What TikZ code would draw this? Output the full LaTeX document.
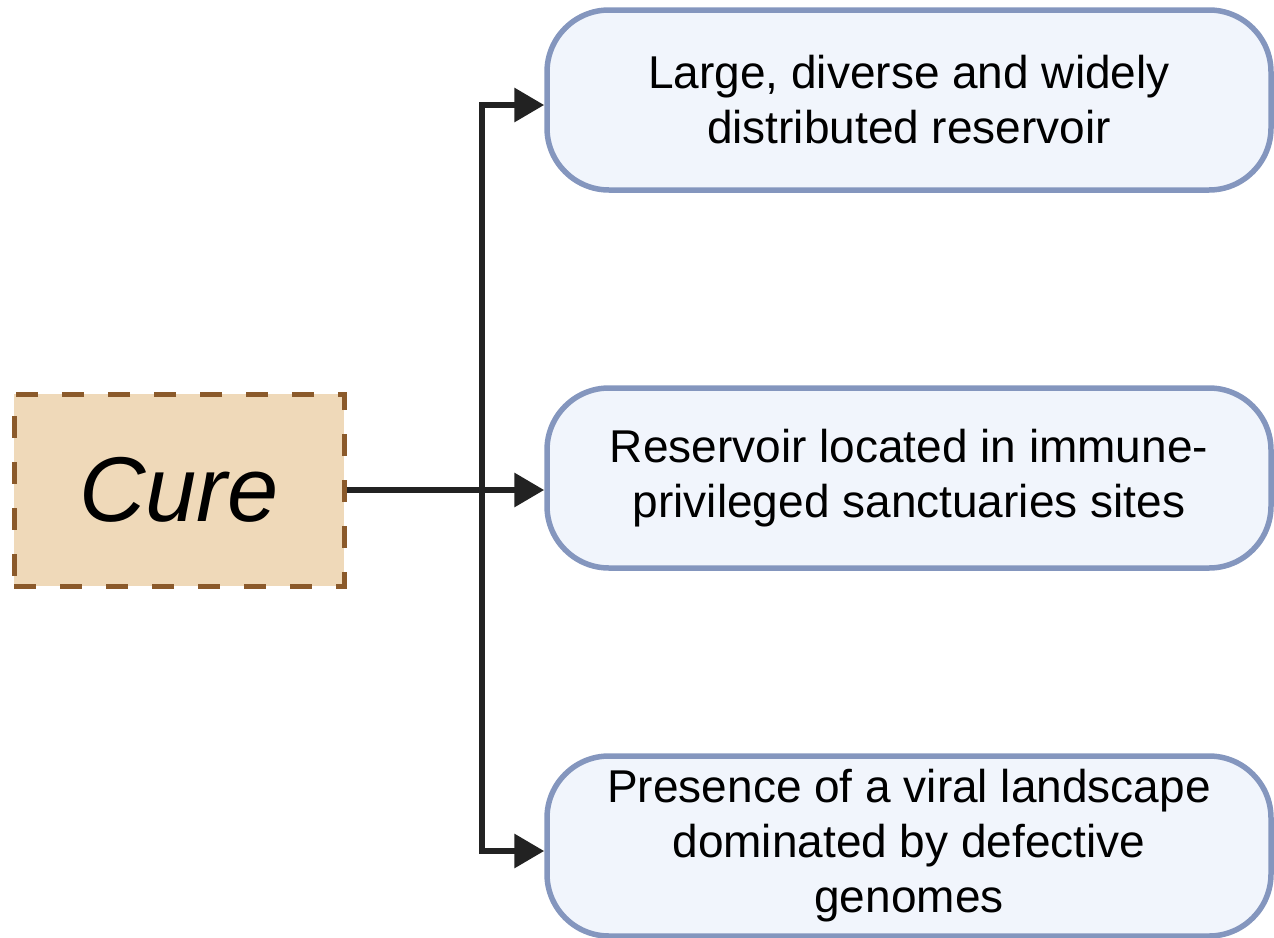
\documentclass[tikz,border=0pt]{standalone}
\usepackage{fontspec}
\setmainfont{Liberation Sans}
\usetikzlibrary{arrows.meta, positioning}
\definecolor{curefill}{HTML}{EFD9B9}
\definecolor{cureline}{HTML}{8B5A2B}
\definecolor{resfill}{HTML}{F1F5FC}
\definecolor{resline}{HTML}{8496BE}
\definecolor{flowcol}{HTML}{222222}

\begin{document}
\begin{tikzpicture}[x=1pt, y=-1pt,
		reservoir/.style={draw=resline, fill=resfill, line width=5.5pt, rounded corners=62pt,
			minimum width=724pt, minimum height=180pt, align=center,
			font=\fontsize{46}{55}\selectfont},
		curebox/.style={draw=cureline, fill=curefill, line width=5pt,
			dash pattern=on 22pt off 24pt, minimum width=330pt, minimum height=192pt,
			font=\fontsize{92}{100}\selectfont\itshape},
		flow/.style={draw=flowcol, line width=6.5pt, -{Triangle[length=30pt, width=33pt]}}]
		\useasboundingbox (0,0) rectangle (1274,937);
		\node[curebox]   (cure) at (179,490) {Cure};
		\node[reservoir] (res1) at (909,100) {Large, diverse and widely\\distributed reservoir};
		\node[reservoir] (res2) at (909,478) {Reservoir located in immune-\\privileged sanctuaries sites};
		\node[reservoir] (res3) at (909,846) {Presence of a viral landscape\\dominated by defective\\genomes};
		\coordinate (trunk) at (482,478);
		%%
		\draw[flow] (cure.east) -- (cure.east -| res2.west);
		\draw[flow, {Triangle[length=30pt, width=33pt]}-{Triangle[length=30pt, width=33pt]}]
			([yshift=-5pt]res1.west) -| (trunk) |- ([yshift=-5pt]res3.west);
	\end{tikzpicture}
\end{document}
